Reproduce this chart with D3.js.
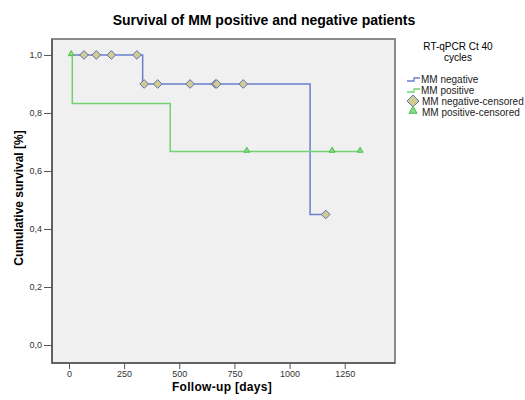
<!DOCTYPE html>
<html>
<head>
<meta charset="utf-8">
<script src="https://cdn.jsdelivr.net/npm/d3@7"></script>
<style>
  body { margin: 0; background: #fff; }
  svg { font-family: "Liberation Sans", Arial, sans-serif; }
</style>
</head>
<body>
<div id="chart"></div>
<script>
// step curves: time of each step and survival after it
const negDays = [0, 334, 1093];
const negSurv = [1, 0.9, 0.45];
const negEnd = 1164;
const negCensored = [68, 124, 192, 308, 341, 402, 549, 664, 670, 790, 1164];

const posDays = [0, 15, 459];
const posSurv = [1, 0.833, 0.667];
const posEnd = 1320;
const posCensored = [10, 806, 1193, 1320];

const xTicks = [0, 250, 500, 750, 1000, 1250];
const yTicks = [0, 0.2, 0.4, 0.6, 0.8, 1.0];
const legendLabels = ["MM negative", "MM positive", "MM negative-censored", "MM positive-censored"];

const width = 525, height = 400;
const blue = "#6a7fcf", green = "#6fd36f";

const svg = d3.select("#chart").append("svg")
  .attr("width", width).attr("height", height);

const x = d3.scaleLinear().domain([-77, 1478]).range([52, 395]);
const y = d3.scaleLinear().domain([-0.062, 1.055]).range([363, 39]);

const comma = d3.formatLocale({ decimal: ",", thousands: ".", grouping: [3], currency: ["", ""] });

// plot background + frame
svg.append("rect")
  .attr("x", x.range()[0]).attr("y", y.range()[1])
  .attr("width", x.range()[1] - x.range()[0])
  .attr("height", y.range()[0] - y.range()[1])
  .attr("fill", "#f0f0f0")
  .attr("stroke", "#8a8a8a").attr("stroke-width", 2);

function stepValue(days, surv, t) {
  let v = surv[0];
  days.forEach((d, i) => { if (t >= d) v = surv[i]; });
  return v;
}

function stepPoints(days, surv, end) {
  const pts = [];
  days.forEach((d, i) => {
    if (i > 0) pts.push([d, surv[i - 1]]);
    pts.push([d, surv[i]]);
  });
  pts.push([end, surv[surv.length - 1]]);
  return pts;
}

const line = d3.line().x(d => x(d[0])).y(d => y(d[1]));

svg.append("path")
  .datum(stepPoints(negDays, negSurv, negEnd))
  .attr("d", line).attr("fill", "none")
  .attr("stroke", blue).attr("stroke-width", 1.5);

svg.append("path")
  .datum(stepPoints(posDays, posSurv, posEnd))
  .attr("d", line).attr("fill", "none")
  .attr("stroke", green).attr("stroke-width", 1.5);

const diamond = d3.symbol().type(d3.symbolDiamond2).size(48);
const triangle = d3.symbol().type(d3.symbolTriangle).size(15);

svg.append("g").selectAll("path")
  .data(negCensored)
  .join("path")
  .attr("d", diamond)
  .attr("transform", d => `translate(${x(d)},${y(stepValue(negDays, negSurv, d))})`)
  .attr("fill", "#d2cd8e")
  .attr("stroke", "#5d70b8").attr("stroke-width", 1);

svg.append("g").selectAll("path")
  .data(posCensored)
  .join("path")
  .attr("d", triangle)
  .attr("transform", d => `translate(${x(d)},${y(stepValue(posDays, posSurv, d)) - 1})`)
  .attr("fill", "#8ada8a")
  .attr("stroke", "#4fbf4f").attr("stroke-width", 1);

// axes
const xAxis = svg.append("g")
  .attr("transform", `translate(0,${y.range()[0]})`)
  .call(d3.axisBottom(x).tickValues(xTicks).tickSize(6).tickPadding(2).tickFormat(d3.format("d")));
const yAxis = svg.append("g")
  .attr("transform", `translate(${x.range()[0]},0)`)
  .call(d3.axisLeft(y).tickValues(yTicks).tickSize(8).tickPadding(2).tickFormat(comma.format(".1f")));

[xAxis, yAxis].forEach(g => {
  g.select(".domain").attr("stroke", "#555").attr("stroke-width", 1.5);
  g.selectAll(".tick line").attr("stroke", "#555");
  g.selectAll(".tick text").attr("fill", "#333").attr("font-size", "9px")
    .attr("font-family", "Liberation Sans, Arial, sans-serif");
});
yAxis.select(".domain").attr("d", `M0,${y.range()[0]}V${y.range()[1]}`);
xAxis.select(".domain").attr("d", `M${x.range()[0]},0H${x.range()[1]}`);

// titles
svg.append("text")
  .attr("x", 264).attr("y", 25)
  .attr("text-anchor", "middle")
  .attr("font-size", "14px").attr("font-weight", "bold")
  .text("Survival of MM positive and negative patients");

svg.append("text")
  .attr("x", 222).attr("y", 391)
  .attr("text-anchor", "middle")
  .attr("font-size", "12px").attr("font-weight", "bold")
  .attr("letter-spacing", "0.3px")
  .text("Follow-up [days]");

svg.append("text")
  .attr("transform", "translate(23,198) rotate(-90)")
  .attr("text-anchor", "middle")
  .attr("font-size", "12px").attr("font-weight", "bold")
  .text("Cumulative survival [%]");

// legend
const lg = svg.append("g");
lg.append("text").attr("x", 458).attr("y", 50).attr("text-anchor", "middle")
  .attr("font-size", "10px").text("RT-qPCR Ct 40");
lg.append("text").attr("x", 458).attr("y", 61).attr("text-anchor", "middle")
  .attr("font-size", "10px").text("cycles");

const ly = [80, 91, 102, 113];
const legendColors = [blue, green];
[0, 1].forEach(i => {
  lg.append("path")
    .attr("d", `M407,${ly[i] + 1}H414V${ly[i] - 2}H420`)
    .attr("fill", "none").attr("stroke", legendColors[i]).attr("stroke-width", 1.3);
});
lg.append("path").attr("d", d3.symbol().type(d3.symbolDiamond2).size(90))
  .attr("transform", `translate(413,${ly[2] - 1})`)
  .attr("fill", "#d2cd8e").attr("stroke", "#5d70b8");
lg.append("path").attr("d", d3.symbol().type(d3.symbolTriangle).size(28))
  .attr("transform", `translate(413,${ly[3] - 2})`)
  .attr("fill", "#8ada8a").attr("stroke", "#4fbf4f");

lg.selectAll("text.item")
  .data(legendLabels)
  .join("text")
  .attr("class", "item")
  .attr("x", (d, i) => i < 2 ? 421 : 422)
  .attr("y", (d, i) => ly[i] + 3)
  .attr("font-size", "10px").attr("fill", "#222")
  .text(d => d);
</script>
</body>
</html>
